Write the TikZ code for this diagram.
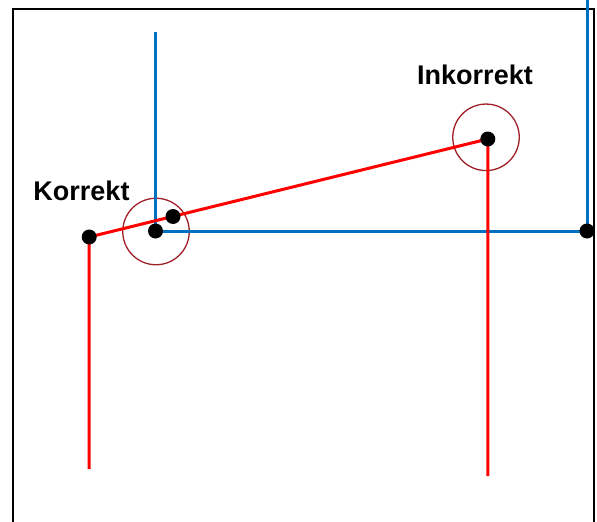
\documentclass[tikz,border=0pt]{standalone}
\usepackage{fontspec}
\setmainfont{Liberation Sans}
\definecolor{myblue}{RGB}{0,112,192}
\definecolor{myred}{RGB}{255,0,0}
\definecolor{ringred}{RGB}{160,32,40}
\begin{document}
\begin{tikzpicture}[x=1pt,y=-1pt,
  dotnode/.style={circle,fill=black,inner sep=0pt,minimum size=15pt},
  ringnode/.style={circle,draw=ringred,line width=1.3pt,inner sep=0pt,minimum size=66.5pt},
  redline/.style={myred,line width=3pt},
  blueline/.style={myblue,line width=3pt},
  lbl/.style={font=\bfseries\fontsize{27}{30}\selectfont,anchor=base,inner sep=0pt}]
\useasboundingbox (0,0) rectangle (597,522);
% frame
\draw[line width=2pt,black] (13,523) -- (13,9) -- (594,9) -- (594,523);
% coordinates
\coordinate (btop) at (155.5,32);
\coordinate (bA) at (155.5,231);
\coordinate (bB) at (587,231);
\coordinate (btr) at (587,-1);
\coordinate (rA) at (89.2,237);
\coordinate (rB) at (487.8,139);
\coordinate (rM) at (173,216.5);
\coordinate (rAb) at (89.2,469);
\coordinate (rBb) at (487.8,476);
% circles
\node[ringnode] (ring1) at (156,231.5) {};
\node[ringnode] (ring2) at (486,137.3) {};
% lines
\draw[blueline] (btop) -- (bA) -- (bB) -- (btr);
\draw[redline] (rAb) -- (rA) -- (rB) -- (rBb);
% dots
\node[dotnode] (dA) at (bA) {};
\node[dotnode] (dB) at (bB) {};
\node[dotnode] (dR1) at (rA) {};
\node[dotnode] (dR2) at (rB) {};
\node[dotnode] (dM) at (rM) {};
% labels
\node[lbl] (korrekt) at (81.5,200) {Korrekt};
\node[lbl] (inkorrekt) at (475,84.5) {Inkorrekt};
\end{tikzpicture}
\end{document}
